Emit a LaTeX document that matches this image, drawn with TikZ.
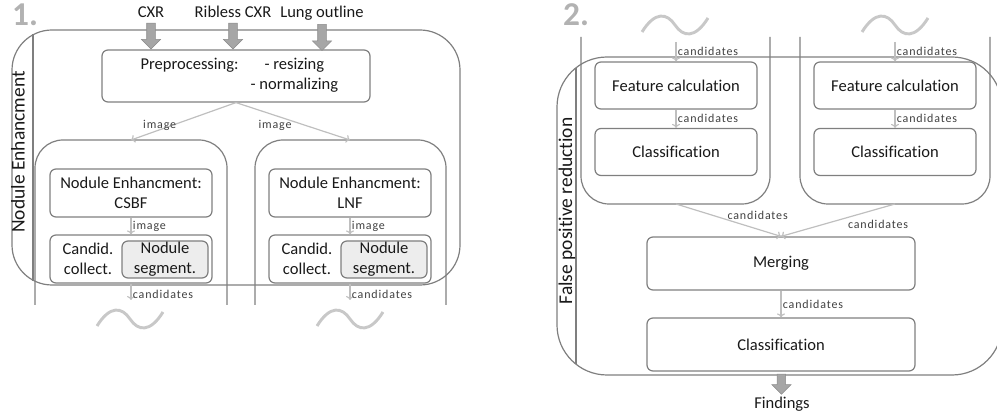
\documentclass[tikz,border=0pt]{standalone}
\usepackage{fontspec}
\setmainfont{Carlito}[Ligatures=NoCommon]
\newfontfamily\lblfont[LetterSpace=7,Ligatures=NoCommon]{Carlito}
\usetikzlibrary{shapes.arrows,arrows.meta}
\definecolor{framegray}{HTML}{7F7F7F}
\definecolor{flowgray}{HTML}{BFBFBF}
\definecolor{wavegray}{HTML}{C8C8C8}
\tikzset{
  frame/.style     = {draw=framegray, line width=0.9pt},
  stage/.style     = {shape=rectangle, rounded corners=4.5pt,
                      draw=framegray, line width=0.9pt, align=center,
                      inner sep=0pt, font=\fontsize{12.4}{15}\selectfont,
                      text=black!90},
  subpart/.style   = {stage, fill=black!7},
  inlabel/.style   = {font=\fontsize{12.4}{15}\selectfont, inner sep=0pt,
                      text=black!90},
  sidelabel/.style = {rotate=90, font=\fontsize{14.6}{18}\selectfont,
                      text=black!90},
  flowlabel/.style = {font=\lblfont\fontsize{9}{10}\selectfont,
                      text=black!75, inner sep=1pt},
  flow/.style      = {draw=flowgray, line width=0.9pt,
                      -{To[length=3pt,width=6pt]}},
  blockarr/.style  = {single arrow, rotate=-90, draw=black!45, fill=black!35,
                      minimum height=19.5pt, minimum width=14pt, inner sep=3pt,
                      single arrow head extend=4pt, single arrow tip angle=90},
  stepnum/.style   = {font=\bfseries\fontsize{25}{25}\selectfont, text=black!30},
  contd/.pic       = {\draw[draw=wavegray, line width=2.2pt]
                      (-33,7) .. controls (-20,-14) and (-8,-12) .. (0,0)
                      .. controls (8,12) and (20,14) .. (33,-7);}
}

\begin{document}
\begin{tikzpicture}[x=0.75pt, y=-0.75pt]
  \useasboundingbox (0,0) rectangle (997,417);

  % 1. nodule enhancement
  \node [stepnum] (num1) at (25,15) {1.};
  \draw [frame, rounded corners=30pt] (12,30) rectangle (460,285);
  \draw [frame] (33,34.3) -- (33,280.7);
  \node [sidelabel] (lbl1) at (18,152) {Nodule Enhancment};

  \node [inlabel, anchor=base] (cxr)  at (151,18) {CXR};
  \node [inlabel, anchor=base] (rib)  at (233,18) {Ribless CXR};
  \node [inlabel, anchor=base] (lung) at (322,18) {Lung outline};
  \node [stage, minimum width=201pt, minimum height=39pt] (pre) at (236,76)
    {\hspace{5pt}\begin{tabular}{@{}l@{\hspace{9pt}}c@{}}
       Preprocessing: & - resizing\\
                      & - normalizing
     \end{tabular}};
  \foreach \src in {cxr,rib,lung}
    \path (\src.south) -- (\src.south |- pre.north) node [midway, blockarr] {};

  \draw [frame, rounded corners=21pt] (35,305) -- (35,140) -- (227,140) -- (227,305);
  \draw [frame, rounded corners=21pt] (255,305) -- (255,140) -- (446,140) -- (446,305);
  \coordinate (top1) at (131,140);
  \coordinate (top2) at (350,140);
  \draw [flow] (pre.south) -- (top1) node [flowlabel, pos=0.6, xshift=-10pt] {image};
  \draw [flow] (pre.south) -- (top2) node [flowlabel, pos=0.6, xshift=-22pt] {image};

  \node [stage, minimum width=121.5pt, minimum height=36pt] (ne1) at (131,193)
    {Nodule Enhancment:\\CSBF};
  \node [stage, minimum width=121.5pt, minimum height=36pt] (cc1) at (131,259) {};
  \node [inlabel, align=center] (cand1) at (88,259) {Candid.\\collect.};
  \node [subpart, minimum width=64.5pt, minimum height=27.75pt] (seg1) at (165,259.5)
    {Nodule\\segment.};
  \coordinate (out1) at (131,300);
  \draw [flow] (ne1) -- (cc1) node [flowlabel, midway, right] {image};
  \draw [flow] (cc1) -- (out1) node [flowlabel, pos=0.65, right] {candidates};

  \node [stage, minimum width=121.5pt, minimum height=36pt] (ne2) at (350,193)
    {Nodule Enhancment:\\LNF};
  \node [stage, minimum width=121.5pt, minimum height=36pt] (cc2) at (350,259) {};
  \node [inlabel, align=center] (cand2) at (307,259) {Candid.\\collect.};
  \node [subpart, minimum width=64.5pt, minimum height=27.75pt] (seg2) at (384,259.5)
    {Nodule\\segment.};
  \coordinate (out2) at (350,300);
  \draw [flow] (ne2) -- (cc2) node [flowlabel, midway, right] {image};
  \draw [flow] (cc2) -- (out2) node [flowlabel, pos=0.65, right] {candidates};

  \pic at (130,319) {contd};
  \pic at (350,319) {contd};

  % 2. false positive reduction
  \node [stepnum] (num2) at (576,15) {2.};
  \pic at (675,25) {contd};
  \pic at (895,25) {contd};
  \draw [frame, rounded corners=21pt] (581,37) -- (581,204) -- (770,204) -- (770,37);
  \draw [frame, rounded corners=21pt] (800,37) -- (800,204) -- (990,204) -- (990,37);
  \draw [frame, rounded corners=37.5pt] (557,57) rectangle (1002,375);
  \draw [frame] (576,67.8) -- (576,364.2);
  \node [sidelabel] (lbl2) at (567,211) {False positive reduction};

  \coordinate (in1) at (676,42);
  \coordinate (in2) at (895,42);
  \coordinate (bot1) at (676,204);
  \coordinate (bot2) at (895,204);
  \node [stage, minimum width=121.5pt, minimum height=35.25pt] (fc1) at (676,85.5)
    {Feature calculation};
  \node [stage, minimum width=121.5pt, minimum height=35.25pt] (cl1) at (676,152)
    {Classification};
  \node [stage, minimum width=121.5pt, minimum height=35.25pt] (fc2) at (895,85.5)
    {Feature calculation};
  \node [stage, minimum width=121.5pt, minimum height=35.25pt] (cl2) at (895,152)
    {Classification};
  \draw [flow] (in1) -- (fc1) node [flowlabel, midway, right] {candidates};
  \draw [flow] (fc1) -- (cl1) node [flowlabel, midway, right] {candidates};
  \draw [flow] (in2) -- (fc2) node [flowlabel, midway, right] {candidates};
  \draw [flow] (fc2) -- (cl2) node [flowlabel, midway, right] {candidates};

  \node [stage, minimum width=201pt, minimum height=39.75pt] (mer) at (781,263.5)
    {Merging};
  \node [stage, minimum width=201pt, minimum height=39.75pt] (cl3) at (781,344.5)
    {Classification};
  \draw [flow] (bot1) -- (mer.north)
    node [flowlabel, pos=0.6, xshift=14pt, yshift=6pt] {candidates};
  \draw [flow] (bot2) -- (mer.north)
    node [flowlabel, pos=0.3, xshift=13pt, yshift=-8pt] {candidates};
  \draw [flow] (mer) -- (cl3) node [flowlabel, midway, right] {candidates};

  \node [inlabel] (fnd) at (782,404) {Findings};
  \path (cl3.south) -- (fnd.north) node [pos=0.42, blockarr, minimum height=15pt] {};
\end{tikzpicture}
\end{document}
